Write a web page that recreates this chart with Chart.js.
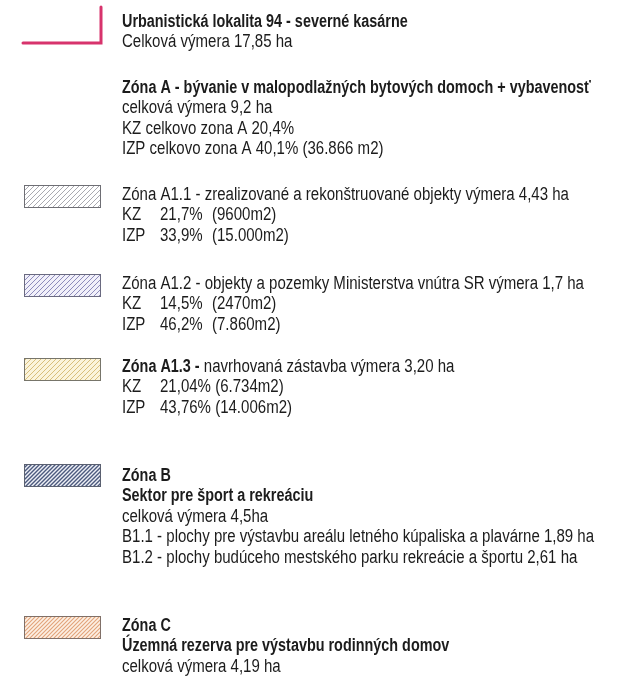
<!DOCTYPE html>
<html>
<head>
<meta charset="utf-8">
<script src="https://cdn.jsdelivr.net/npm/chart.js@4.4.1/dist/chart.umd.min.js"></script>
<style>
  html, body { margin: 0; padding: 0; background: #fff; }
  #wrap { width: 627px; height: 677px; position: relative; }
</style>
</head>
<body>
<div id="wrap"><canvas id="legendChart"></canvas></div>
<script>
// legend texts
const siteLines = ['Urbanistická lokalita 94 - severné kasárne', 'Celková výmera 17,85 ha'];
const zoneALines = [
    'Zóna A - bývanie v malopodlažných bytových domoch + vybavenosť',
    'celková výmera 9,2 ha',
    'KZ celkovo zona A 20,4%',
    'IZP celkovo zona A 40,1% (36.866 m2)'
];
const subZones = ['Zóna A1.1', 'Zóna A1.2', 'Zóna A1.3 -'];
const subZoneDescs = [
    ' - zrealizované a rekonštruované objekty výmera 4,43 ha',
    ' - objekty a pozemky Ministerstva vnútra SR výmera 1,7 ha',
    ' navrhovaná zástavba výmera 3,20 ha'
];
const kzPct = ['21,7%', '14,5%', '21,04%'];
const kzArea = ['(9600m2)', '(2470m2)', '(6.734m2)'];
const izpPct = ['33,9%', '46,2%', '43,76%'];
const izpArea = ['(15.000m2)', '(7.860m2)', '(14.006m2)'];
const zoneBLines = [
    'Zóna B',
    'Sektor pre šport a rekreáciu',
    'celková výmera 4,5ha',
    'B1.1 - plochy pre výstavbu areálu letného kúpaliska a plavárne 1,89 ha',
    'B1.2 - plochy budúceho mestského parku rekreácie a športu 2,61 ha'
];
const zoneCLines = ['Zóna C', 'Územná rezerva pre výstavbu rodinných domov', 'celková výmera 4,19 ha'];

// layout (page units, mapped through the hidden scales)
const FONT = '"Liberation Sans", Arial, sans-serif';
const TEXT_X = 122;
const LINE_H = 20.5;
const groupY = { site: 22, zoneA: 88, sub: [195, 284, 367], zoneB: 476, zoneC: 626 };

const swatches = [
    { y: 185, bg: '#ffffff', line: '#a9a9b0', border: '#6e6e74', gap: 5, lw: 1 },
    { y: 274, bg: '#f1f0fa', line: '#8d8bbb', border: '#6a6a80', gap: 5, lw: 1 },
    { y: 358, bg: '#fbf4dc', line: '#d8bf7c', border: '#77756a', gap: 5, lw: 1 },
    { y: 464, bg: '#eef0f6', line: '#4c5a7e', border: '#5a6070', gap: 4, lw: 1.4 },
    { y: 616, bg: '#fdf0e4', line: '#e2a27a', border: '#807068', gap: 4, lw: 1.1 }
];

function hatch(ctx, s) {
    const p = document.createElement('canvas');
    p.width = s.gap; p.height = s.gap;
    const c = p.getContext('2d');
    c.fillStyle = s.bg;
    c.fillRect(0, 0, s.gap, s.gap);
    c.strokeStyle = s.line;
    c.lineWidth = s.lw;
    c.beginPath();
    c.moveTo(-1, s.gap + 1); c.lineTo(s.gap + 1, -1);
    c.moveTo(-1, 1); c.lineTo(1, -1);
    c.moveTo(s.gap - 1, s.gap + 1); c.lineTo(s.gap + 1, s.gap - 1);
    c.stroke();
    return ctx.createPattern(p, 'repeat');
}

const legendPlugin = {
    id: 'mapLegend',
    afterDraw(chart) {
        const ctx = chart.ctx;
        const sx = v => chart.scales.x.getPixelForValue(v);
        const sy = v => chart.scales.y.getPixelForValue(v);
        ctx.save();
        ctx.textBaseline = 'middle';

        // narrow look: squeeze a normal sans horizontally
        const put = (txt, x, y, bold) => {
            const k = bold ? 0.8 : 0.835;
            ctx.save();
            ctx.font = (bold ? 'bold ' : '') + '18px ' + FONT;
            ctx.fillStyle = '#1c1c1c';
            ctx.translate(sx(x), sy(y));
            ctx.scale(k, 1);
            ctx.fillText(txt, 0, 0);
            const w = ctx.measureText(txt).width * k;
            ctx.restore();
            return w;
        };

        // boundary symbol
        ctx.strokeStyle = '#d7336c';
        ctx.lineWidth = 3;
        ctx.lineCap = 'round';
        ctx.beginPath();
        ctx.moveTo(sx(101), sy(7));
        ctx.lineTo(sx(101), sy(43));
        ctx.lineTo(sx(23), sy(43));
        ctx.stroke();

        siteLines.forEach((t, i) => put(t, TEXT_X, groupY.site + i * LINE_H, i === 0));
        zoneALines.forEach((t, i) => put(t, TEXT_X, groupY.zoneA + i * LINE_H, i === 0));

        subZones.forEach((name, i) => {
            const y = groupY.sub[i];
            const boldName = i === 2;
            const w = put(name, TEXT_X, y, boldName);
            put(subZoneDescs[i], TEXT_X + w, y, false);
            put('KZ', TEXT_X, y + LINE_H, false);
            put('IZP', TEXT_X, y + 2 * LINE_H, false);
            if (i < 2) {
                put(kzPct[i], TEXT_X + 38, y + LINE_H, false);
                put(kzArea[i], TEXT_X + 90, y + LINE_H, false);
                put(izpPct[i], TEXT_X + 38, y + 2 * LINE_H, false);
                put(izpArea[i], TEXT_X + 90, y + 2 * LINE_H, false);
            } else {
                put(kzPct[i] + ' ' + kzArea[i], TEXT_X + 38, y + LINE_H, false);
                put(izpPct[i] + ' ' + izpArea[i], TEXT_X + 38, y + 2 * LINE_H, false);
            }
        });

        zoneBLines.forEach((t, i) => put(t, TEXT_X, groupY.zoneB + i * LINE_H, i < 2));
        zoneCLines.forEach((t, i) => put(t, TEXT_X, groupY.zoneC + i * LINE_H, i < 2));

        // hatched swatches
        swatches.forEach(s => {
            const x0 = sx(24), x1 = sx(101), y0 = sy(s.y), y1 = sy(s.y + 23);
            ctx.fillStyle = hatch(ctx, s);
            ctx.fillRect(x0, y0, x1 - x0, y1 - y0);
            ctx.strokeStyle = s.border;
            ctx.lineWidth = 1;
            ctx.strokeRect(x0 + 0.5, y0 + 0.5, x1 - x0 - 1, y1 - y0 - 1);
        });
        ctx.restore();
    }
};

new Chart(document.getElementById('legendChart'), {
    type: 'scatter',
    data: { datasets: [] },
    options: {
        responsive: true,
        maintainAspectRatio: false,
        animation: false,
        layout: { padding: 0 },
        plugins: { legend: { display: false }, tooltip: { enabled: false } },
        scales: {
            x: { type: 'linear', min: 0, max: 627, display: false },
            y: { type: 'linear', min: 0, max: 677, reverse: true, display: false }
        }
    },
    plugins: [legendPlugin]
});
</script>
</body>
</html>
